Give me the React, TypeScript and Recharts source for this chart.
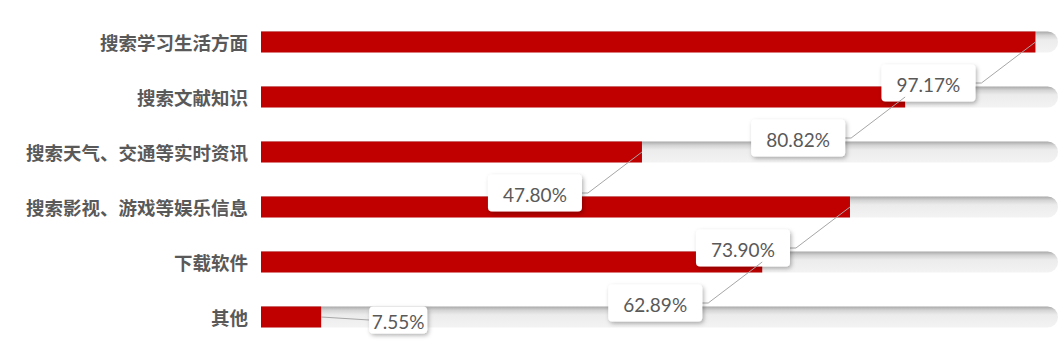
import { BarChart, Bar, XAxis, YAxis, LabelList } from 'recharts';

const categories = [
  '搜索学习生活方面',
  '搜索文献知识',
  '搜索天气、交通等实时资讯',
  '搜索影视、游戏等娱乐信息',
  '下载软件',
  '其他',
];
const shares = [97.17, 80.82, 47.8, 73.9, 62.89, 7.55];

const data = categories.map((name, i) => ({ name, value: shares[i] }));

const RED = '#c00000';
const TEXT = '#595959';

// grey rounded track behind each bar
function Track(props: any) {
  const { x, y, width, height } = props;
  const r = height / 2;
  const d = `M${x},${y} H${x + width - r} A${r},${r} 0 0 1 ${x + width - r},${y + height} H${x} Z`;
  return <path d={d} fill="url(#trackGrad)" />;
}

function CatTick(props: any) {
  const { x, y, payload } = props;
  return (
    <text x={x} y={y} textAnchor="end" dominantBaseline="central" fill={TEXT}
      fontSize={18.5} fontWeight={700} fontFamily="'Noto Sans CJK SC', sans-serif">
      {payload.value}
    </text>
  );
}

function Callout(props: any) {
  const { x, y, width, height, value } = props;
  const xe = x + width;
  const yc = y + height / 2;
  const txt = `${Number(value).toFixed(2)}%`;
  const font = { fontSize: 19, fontWeight: 400, fontFamily: "Lato, 'Open Sans', sans-serif" };
  // short bars get a compact box to the right
  if (width < 150) {
    const bw = 58, bh = 27;
    const cx = xe + 77, cy = yc + 3;
    return (
      <g>
        <line x1={xe} y1={yc} x2={cx - bw / 2} y2={cy} stroke="#a6a6a6" strokeWidth={1} />
        <rect x={cx - bw / 2} y={cy - bh / 2} width={bw} height={bh} rx={4} fill="#fff" filter="url(#boxShadow)" />
        <text x={cx} y={cy + 1} textAnchor="middle" dominantBaseline="central" fill={TEXT} {...font}>{txt}</text>
      </g>
    );
  }
  const bw = 94, bh = 37;
  const cx = xe - 107, cy = yc + 41;
  const right = cx + bw / 2;
  return (
    <g>
      <polyline points={`${xe},${yc} ${right + 6},${cy} ${right},${cy}`} fill="none" stroke="#a6a6a6" strokeWidth={1} />
      <rect x={cx - bw / 2} y={cy - bh / 2} width={bw} height={bh} rx={4} fill="#fff" filter="url(#boxShadow)" />
      <text x={cx} y={cy + 1} textAnchor="middle" dominantBaseline="central" fill={TEXT} {...font}>{txt}</text>
    </g>
  );
}

export default function App() {
  return (
    <div style={{ position: 'absolute', left: 0, top: 0, width: 1061, height: 359, background: '#fff' }}>
      <BarChart
        width={1061}
        height={359}
        data={data}
        layout="vertical"
        margin={{ top: 14.5, right: 3, bottom: 14.5, left: 0 }}
        barSize={21}
      >
        <defs>
          <linearGradient id="trackGrad" x1="0" y1="0" x2="0" y2="1">
            <stop offset="0%" stopColor="#a8a8a8" />
            <stop offset="18%" stopColor="#d4d4d4" />
            <stop offset="40%" stopColor="#ececec" />
            <stop offset="100%" stopColor="#f3f3f3" />
          </linearGradient>
          <filter id="boxShadow" x="-20%" y="-30%" width="150%" height="180%">
            <feDropShadow dx={1.5} dy={2} stdDeviation={2} floodColor="#000" floodOpacity={0.3} />
          </filter>
        </defs>
        <XAxis type="number" domain={[0, 100]} hide />
        <YAxis
          type="category"
          dataKey="name"
          width={261}
          axisLine={false}
          tickLine={false}
          tickSize={0}
          tickMargin={13}
          tick={<CatTick />}
        />
        <Bar dataKey="value" fill={RED} background={<Track />} isAnimationActive={false}>
          <LabelList dataKey="value" content={<Callout />} />
        </Bar>
      </BarChart>
    </div>
  );
}
